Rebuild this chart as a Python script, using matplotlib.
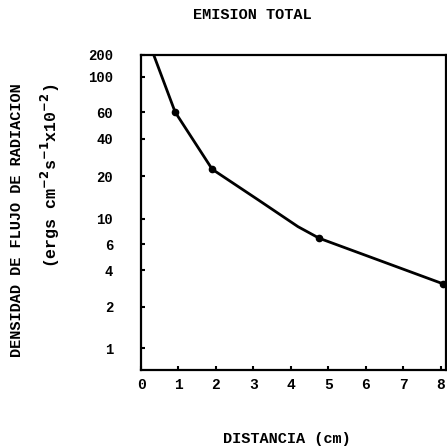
import numpy as np
import matplotlib
matplotlib.use("Agg")
import matplotlib.pyplot as plt
from matplotlib.ticker import FixedLocator, NullLocator

# datos
distancia = [0.34, 0.91, 1.90, 3.13, 4.19, 4.76, 6.04, 8.07]
emision = [200, 60, 22.7, 13.6, 8.55, 6.74, 4.98, 3.08]
con_punto = [1, 2, 5, 7]   # puntos marcados con circulo

x_ticks = [0, 1, 2, 3, 4, 5, 6, 7, 8]
y_ticks = [1, 2, 4, 6, 10, 20, 40, 60, 100, 200]

# el eje vertical original es "casi" logaritmico, dibujado a mano:
# calibracion valor -> altura relativa
cal_val = np.log10([0.69, 1, 2, 4, 6, 10, 20, 40, 60, 100, 200])
cal_alt = np.array([0, 22, 63, 100, 126, 151, 194, 231, 258, 293, 315]) / 315.0


def forward(y):
    y = np.clip(np.asarray(y, dtype=float), 1e-9, None)
    return np.interp(np.log10(y), cal_val, cal_alt)


def inverse(h):
    return 10 ** np.interp(h, cal_alt, cal_val)


plt.rcParams['font.family'] = ['Liberation Mono', 'DejaVu Sans Mono']
plt.rcParams['font.weight'] = 'bold'

W = 447.0
fig = plt.figure(figsize=(4.47, 4.47), dpi=100)
ax = fig.add_axes([141 / W, 1 - 370 / W, 305 / W, 315 / W])

ax.set_yscale('function', functions=(forward, inverse))
ax.set_xlim(0.075, 8.14)
ax.set_ylim(0.69, 200)

ax.plot(distancia, emision, color='black', lw=2.0, solid_joinstyle='round')
ax.plot([distancia[i] for i in con_punto], [emision[i] for i in con_punto],
        'o', color='black', ms=4.5)

ax.yaxis.set_major_locator(FixedLocator(y_ticks))
ax.set_yticklabels([str(v) for v in y_ticks])
ax.yaxis.set_minor_locator(NullLocator())
ax.set_xticks(x_ticks)
ax.set_xticklabels([str(v) for v in x_ticks])

ax.tick_params(axis='y', direction='in', length=3, width=1.5, pad=20, labelsize=10)
ax.tick_params(axis='x', direction='in', length=3, width=1.5, pad=6, labelsize=10.5)
for s in ax.spines.values():
    s.set_linewidth(1.6)

fig.text(252 / W, 1 - 15 / W, 'EMISION TOTAL', ha='center', va='center',
         fontsize=11, fontweight='bold')
fig.text(287 / W, 1 - 439 / W, 'DISTANCIA (cm)', ha='center', va='center',
         fontsize=11, fontweight='bold')
fig.text(17 / W, 1 - 220 / W, 'DENSIDAD DE FLUJO DE RADIACION', rotation=90,
         ha='center', va='center', fontsize=11, fontweight='bold')
fig.text(50 / W, 1 - 176 / W, r'(ergs cm$^{-2}$s$^{-1}$x10$^{-2}$)', rotation=90,
         ha='center', va='center', fontsize=12, fontweight='bold')

fig.savefig('out.png', dpi=100)
